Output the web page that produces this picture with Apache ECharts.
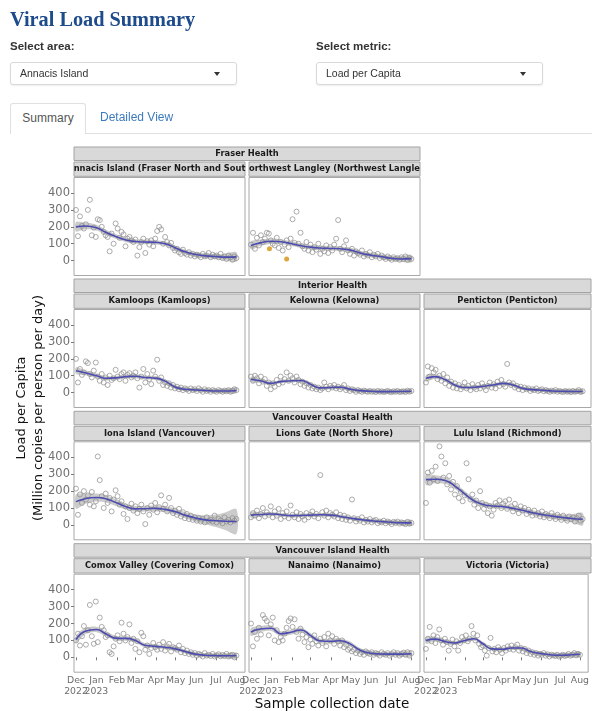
<!DOCTYPE html>
<html>
<head>
<meta charset="utf-8">
<title>Viral Load Summary</title>
<script src="https://cdn.jsdelivr.net/npm/echarts@6/dist/echarts.min.js"></script>
<style>
  body { margin: 0; background: #fff; }
  #page { position: relative; width: 592px; height: 711px; overflow: hidden; font-family: "Liberation Sans", Arial, sans-serif; }
  #chart { position: absolute; left: 0; top: 0; width: 592px; height: 711px; }
  .title { position: absolute; left: 10px; top: 9px; font: bold 20.3px/20px "Liberation Serif", serif; color: #1d4b8b; white-space: nowrap; }
  .lbl { position: absolute; top: 40px; font-weight: bold; font-size: 11.5px; line-height: 13px; color: #333; }
  .sel { position: absolute; top: 62px; width: 227px; height: 23px; box-sizing: border-box; border: 1px solid #d9d9d9; border-radius: 3px;
         box-shadow: 0 1px 2px rgba(0,0,0,0.07); font-size: 10.5px; line-height: 21px; color: #333; padding-left: 9px; background: #fff; }
  .caret { position: absolute; right: 16px; top: 9px; width: 0; height: 0; border-left: 3.5px solid transparent; border-right: 3.5px solid transparent; border-top: 4px solid #333; }
  .tabline { position: absolute; left: 86px; right: 0; top: 133px; border-top: 1px solid #e0e0e0; }
  .tab { position: absolute; top: 103px; height: 31px; box-sizing: border-box; font-size: 12px; line-height: 29px; }
  .tab.active { left: 10px; width: 76px; border: 1px solid #e0e0e0; border-bottom: none; border-radius: 3px 3px 0 0; text-align: center; color: #555; background: #fff; }
  .tab.link { left: 100px; color: #3c7bbf; }
</style>
</head>
<body>
<div id="page">
  <div id="chart"></div>
  <div class="title">Viral Load Summary</div>
  <div class="lbl" style="left:10px">Select area:</div>
  <div class="sel" style="left:10px">Annacis Island<span class="caret"></span></div>
  <div class="lbl" style="left:316px">Select metric:</div>
  <div class="sel" style="left:316px">Load per Capita<span class="caret"></span></div>
  <div class="tabline"></div>
  <div class="tab active">Summary</div>
  <div class="tab link">Detailed View</div>
</div>
<script>
// sample collection dates (shared by all sites)
const sampleDates = [
  '2022-12-01','2022-12-04','2022-12-07','2022-12-10','2022-12-13','2022-12-16','2022-12-19','2022-12-22','2022-12-25','2022-12-28','2022-12-31',
  '2023-01-03','2023-01-06','2023-01-09','2023-01-12','2023-01-15','2023-01-18','2023-01-21','2023-01-24','2023-01-27','2023-01-30',
  '2023-02-02','2023-02-05','2023-02-08','2023-02-11','2023-02-14','2023-02-17','2023-02-20','2023-02-23','2023-02-26',
  '2023-03-01','2023-03-04','2023-03-07','2023-03-10','2023-03-13','2023-03-16','2023-03-19','2023-03-22','2023-03-25','2023-03-28','2023-03-31',
  '2023-04-03','2023-04-06','2023-04-09','2023-04-12','2023-04-15','2023-04-18','2023-04-21','2023-04-24','2023-04-27','2023-04-30',
  '2023-05-03','2023-05-06','2023-05-09','2023-05-12','2023-05-15','2023-05-18','2023-05-21','2023-05-24','2023-05-27','2023-05-30',
  '2023-06-02','2023-06-05','2023-06-08','2023-06-11','2023-06-14','2023-06-17','2023-06-20','2023-06-23','2023-06-26','2023-06-29',
  '2023-07-02','2023-07-05','2023-07-08','2023-07-11','2023-07-14','2023-07-17','2023-07-20','2023-07-23','2023-07-26','2023-07-29',
  '2023-08-01'
];
// dates where the smoothed fit is given
const fitDates = ['2022-12-01','2022-12-15','2023-01-01','2023-01-15','2023-02-01','2023-02-15','2023-03-01','2023-03-15',
  '2023-04-01','2023-04-15','2023-05-01','2023-05-15','2023-06-01','2023-06-15','2023-07-01','2023-07-15','2023-08-01'];

const monthTicks = ['2022-12-01','2023-01-01','2023-02-01','2023-03-01','2023-04-01','2023-05-01','2023-06-01','2023-07-01','2023-08-01'];
const monthLabels = ['Dec','Jan','Feb','Mar','Apr','May','Jun','Jul','Aug'];
const yearTicks = ['2022-12-01','2023-01-01'];
const yearLabels = ['2022','2023'];
const yTicks = [0, 100, 200, 300, 400];

const regionNames = ['Fraser Health', 'Interior Health', 'Vancouver Coastal Health', 'Vancouver Island Health'];
const siteLabels = ['nnacis Island (Fraser North and Sout', 'orthwest Langley (Northwest Langle',
  'Kamloops (Kamloops)', 'Kelowna (Kelowna)', 'Penticton (Penticton)',
  'Iona Island (Vancouver)', 'Lions Gate (North Shore)', 'Lulu Island (Richmond)',
  'Comox Valley (Covering Comox)', 'Nanaimo (Nanaimo)', 'Victoria (Victoria)'];

// load per capita, one value per sample date
const annacisLoad = [300,145,262,205,190,215,300,360,150,195,140, 245,240,200,170,150,140,55,160,100,220, 190,135,170,155,85,130,140,120,110,
  125,30,80,110,130,45,115,95,120,85,130, 175,200,185,100,140,110,90,105,75,60, 70,50,40,65,45,35,50,30,40,25,
  35,30,20,40,25,30,45,20,35,25, 30,20,40,15,25,10,30,20,5,25, 15];
const nwLangleyLoad = [95,165,70,135,90,150,110,130,165,160,120, 100,90,135,75,110,60,95,120,80,130, 245,105,290,100,165,85,70,110,60,
  95,50,80,65,100,40,70,55,90,45,80, 60,95,130,240,70,50,85,120,60,40, 70,30,55,45,35,60,25,40,30,50,
  20,35,25,40,15,30,20,10,25,15, 5,20,10,15,5,20,10,25,5,15, 10];
const kamloopsLoad = [200,60,140,105,120,185,175,110,90,130,178, 95,70,110,60,90,45,100,75,85,135, 95,80,110,120,70,105,115,90,100,
  120,85,30,95,140,60,110,80,50,130,95, 195,70,90,45,60,40,55,30,45,25, 35,20,30,15,25,20,10,25,15,20,
  10,25,15,5,20,10,15,5,15,10, 5,15,10,5,12,8,15,5,10,20, 15];
const kelownaLoad = [95,70,100,85,55,95,65,80,40,60,20, 55,35,75,50,95,60,80,120,70,100, 85,60,95,75,50,65,40,55,30,
  45,25,35,20,30,15,25,60,35,20,40, 30,45,25,35,20,30,45,15,25,10, 20,15,5,15,10,5,12,8,5,10,
  5,8,3,10,5,8,4,6,10,5, 3,8,5,10,4,6,8,3,12,6, 10];
const pentictonLoad = [60,155,95,145,120,135,80,100,70,110,55, 90,40,65,30,55,25,45,20,35,60, 25,40,15,50,30,20,45,25,55,
  35,15,40,60,30,50,25,65,40,75,50, 35,170,60,45,55,30,40,20,35,15, 30,20,25,10,20,15,25,10,15,20,
  8,15,10,5,12,8,15,5,10,6, 4,10,5,8,3,10,5,8,15,4, 8];
const ionaLoad = [215,60,180,130,200,150,175,120,195,110,140, 405,265,170,100,185,130,160,80,150,205, 170,120,140,65,110,35,100,125,85,
  110,70,95,120,80,5,100,60,115,90,130, 75,105,175,95,120,80,160,100,70,85, 60,95,50,75,40,65,35,55,30,45,
  25,40,20,35,15,45,25,30,20,55, 15,35,25,10,45,20,30,15,40,25, 35];
const lionsGateLoad = [45,70,55,85,40,65,100,50,75,60,110, 45,80,55,95,35,70,50,80,40,115, 60,45,75,35,65,50,30,70,45,
  60,80,50,65,40,295,75,55,85,45,70, 60,50,75,40,60,35,55,30,45,25, 150,40,20,35,25,45,15,30,20,35,
  15,25,30,10,20,15,25,10,20,15, 5,18,12,20,8,15,10,5,18,8, 12];
const luluLoad = [130,310,250,320,270,345,260,465,405,280,365, 240,290,210,255,180,230,160,195,140,175, 365,270,150,180,120,145,100,200,130,
  95,120,70,110,55,90,130,115,145,100,125, 140,95,150,110,80,125,95,70,110,85, 100,65,90,75,55,85,60,70,50,80,
  45,65,55,40,70,50,35,60,45,30, 55,40,25,50,35,45,20,40,55,25, 35];
const comoxLoad = [100,140,70,125,185,75,160,310,125,80,330, 90,235,180,160,120,130,30,20,65,110, 130,95,205,140,100,120,195,85,110,
  50,95,30,145,125,45,70,20,55,85,60, 45,75,50,90,40,65,80,35,60,55, 45,70,30,50,25,40,20,30,15,25,
  10,20,15,5,25,10,15,8,20,5, 12,18,6,14,8,20,5,12,15,0, 10];
const nanaimoLoad = [200,65,150,110,175,135,250,230,215,130,195, 235,100,160,90,120,100,140,175,215,230, 180,225,150,110,170,135,90,120,60,
  105,80,130,95,70,110,85,120,65,140,100, 125,80,110,95,70,100,60,75,45,55, 35,45,25,40,20,30,15,35,25,20,
  30,15,25,20,10,30,20,15,25,10, 20,30,15,25,10,20,28,15,30,10, 25];
const victoriaLoad = [50,110,180,95,130,85,120,165,100,75,110, 90,40,80,105,65,95,40,85,120,100, 130,95,110,185,140,100,130,80,60,
  70,40,10,55,115,35,50,30,60,45,25, 55,40,65,50,70,45,60,75,40,55, 35,50,25,40,20,30,15,25,10,20,
  15,25,10,18,5,15,12,8,15,5, 10,15,8,12,20,10,15,25,12,20, 15];

// flagged samples (orange) at Northwest Langley
const nwLangleyFlagDates = ['2022-12-29', '2023-01-24'];
const nwLangleyFlagLoad = [70, 10];

// smoothed fit and half-width of its confidence band
const annacisFit = [200,205,195,168,140,122,113,110,108,100,75,52,36,28,24,21,22];
const annacisBand = [28,20,17,15,14,13,13,13,13,13,13,13,13,14,16,20,28];
const nwLangleyFit = [90,105,115,112,100,88,80,75,72,70,62,45,32,24,14,10,12];
const nwLangleyBand = [24,18,16,15,14,14,14,14,14,14,14,14,14,14,15,17,22];
const kamloopsFit = [130,118,100,85,88,95,97,90,86,68,32,20,16,13,10,10,13];
const kamloopsBand = [20,15,13,12,12,12,12,12,12,12,12,11,11,11,12,13,16];
const kelownaFit = [78,70,55,65,70,72,50,28,30,32,20,12,8,6,6,7,8];
const kelownaBand = [16,12,11,10,10,10,10,10,10,10,10,9,9,9,9,10,12];
const pentictonFit = [85,95,75,45,30,32,38,45,55,45,25,18,14,10,8,7,7];
const pentictonBand = [20,15,13,12,11,11,11,11,11,11,10,10,10,10,10,11,14];
const ionaFit = [138,155,162,155,130,108,95,96,98,92,78,58,40,30,25,22,20];
const ionaBand = [42,30,24,22,20,18,17,17,17,18,18,19,22,27,37,52,74];
const lionsGateFit = [58,62,65,60,55,56,58,60,58,50,40,32,25,20,16,13,12];
const lionsGateBand = [18,14,12,11,11,11,11,11,11,11,11,11,11,11,12,14,18];
const luluFit = [268,270,262,230,178,140,120,112,108,98,85,72,60,52,44,38,34];
const luluBand = [32,24,20,18,17,16,15,15,15,15,15,15,16,17,19,24,37];
const comoxFit = [105,155,165,140,112,112,100,72,65,60,50,35,18,12,10,9,10];
const comoxBand = [22,18,16,15,14,14,14,13,13,13,12,12,12,12,12,14,17];
const nanaimoFit = [150,168,172,140,150,162,130,98,95,98,78,42,24,20,19,19,21];
const nanaimoBand = [24,18,16,15,15,15,14,14,14,14,14,13,13,13,13,15,18];
const victoriaFit = [100,108,92,85,100,110,80,50,48,55,55,35,22,15,12,14,18];
const victoriaBand = [20,15,13,12,12,12,12,11,11,11,11,11,11,11,12,13,16];

const FONT = '"DejaVu Sans", sans-serif';
const colLeft = [74, 249, 424];
const colWidth = [171, 171, 167];
const panelTop = [177.5, 309.5, 441.8, 574.2];
const panelH = 98;

const panels = [
  { row: 0, col: 0, load: annacisLoad, fit: annacisFit, band: annacisBand },
  { row: 0, col: 1, load: nwLangleyLoad, fit: nwLangleyFit, band: nwLangleyBand, flagDates: nwLangleyFlagDates, flagLoad: nwLangleyFlagLoad },
  { row: 1, col: 0, load: kamloopsLoad, fit: kamloopsFit, band: kamloopsBand },
  { row: 1, col: 1, load: kelownaLoad, fit: kelownaFit, band: kelownaBand },
  { row: 1, col: 2, load: pentictonLoad, fit: pentictonFit, band: pentictonBand },
  { row: 2, col: 0, load: ionaLoad, fit: ionaFit, band: ionaBand },
  { row: 2, col: 1, load: lionsGateLoad, fit: lionsGateFit, band: lionsGateBand },
  { row: 2, col: 2, load: luluLoad, fit: luluFit, band: luluBand },
  { row: 3, col: 0, load: comoxLoad, fit: comoxFit, band: comoxBand },
  { row: 3, col: 1, load: nanaimoLoad, fit: nanaimoFit, band: nanaimoBand },
  { row: 3, col: 2, load: victoriaLoad, fit: victoriaFit, band: victoriaBand }
];

// dates become timestamps on a value axis, so custom month ticks can be placed
const parse = function (s) { return echarts.time.parse(s).getTime(); };
const sampleTs = sampleDates.map(parse);
const fitTs = fitDates.map(parse);
const monthTs = monthTicks.map(parse);
const yearTs = yearTicks.map(parse);
const xMin = parse('2022-11-28');
const xMax = parse('2023-08-14');

const chart = echarts.init(document.getElementById('chart'));

const grid = [], xAxis = [], yAxis = [], series = [], graphic = [];

function labelAxis(gi, values, labels, show, margin, withTicks) {
  return {
    type: 'value', gridIndex: gi, position: 'bottom', min: xMin, max: xMax,
    axisLine: { show: false },
    splitLine: { show: false },
    axisTick: { show: show && withTicks, customValues: values, length: 3, lineStyle: { color: '#7a7a7a' } },
    axisLabel: {
      show: show, customValues: values, hideOverlap: false, showMinLabel: true, showMaxLabel: true,
      fontFamily: FONT, fontSize: 9.3, color: '#6e6e6e', margin: margin,
      formatter: function (v) { const k = values.indexOf(v); return k < 0 ? '' : labels[k]; }
    }
  };
}

panels.forEach(function (p, i) {
  const bottomRow = p.row === 3;
  const firstCol = p.col === 0;
  grid.push({
    left: colLeft[p.col], top: panelTop[p.row], width: colWidth[p.col], height: panelH,
    show: true, backgroundColor: '#fff', borderColor: '#a8a8a8', borderWidth: 1
  });
  const xi = xAxis.length;
  xAxis.push(labelAxis(i, monthTs, monthLabels, bottomRow, 4, true));
  if (bottomRow) {
    // one axis per year label so the two touching labels are both kept
    xAxis.push(labelAxis(i, [yearTs[0]], [yearLabels[0]], true, 14.5, false));
    xAxis.push(labelAxis(i, [yearTs[1]], [yearLabels[1]], true, 14.5, false));
  }
  yAxis.push({
    type: 'value', gridIndex: i, min: -88, max: 492,
    axisLine: { show: false },
    splitLine: { show: false },
    axisTick: { show: firstCol, customValues: yTicks, length: 3, lineStyle: { color: '#7a7a7a' } },
    axisLabel: { show: firstCol, customValues: yTicks, fontFamily: FONT, fontSize: 11.5, color: '#707070', margin: 4 }
  });

  const pts = [];
  p.load.forEach(function (v, k) { if (v != null) pts.push([sampleTs[k], v]); });
  series.push({
    type: 'scatter', xAxisIndex: xi, yAxisIndex: i, data: pts, symbol: 'circle', symbolSize: 5, silent: true, z: 2,
    itemStyle: { color: 'rgba(255,255,255,0)', borderColor: '#929292', borderWidth: 0.9, opacity: 0.85 }
  });
  if (p.flagDates) {
    series.push({
      type: 'scatter', xAxisIndex: xi, yAxisIndex: i, symbol: 'circle', symbolSize: 5, silent: true, z: 5,
      data: p.flagDates.map(function (d, k) { return [parse(d), p.flagLoad[k]]; }),
      itemStyle: { color: '#d4900e' }
    });
  }
  // confidence band around the fit
  series.push({
    type: 'custom', xAxisIndex: xi, yAxisIndex: i, silent: true, z: 3, clip: true,
    data: fitTs.map(function (t, k) { return [t, p.fit[k]]; }),
    renderItem: function (params, api) {
      if (params.dataIndex !== 0) return;
      const upper = [], lower = [];
      for (let k = 0; k < fitTs.length; k++) {
        upper.push(api.coord([fitTs[k], p.fit[k] + p.band[k]]));
        lower.push(api.coord([fitTs[k], p.fit[k] - p.band[k]]));
      }
      return {
        type: 'polygon',
        shape: { points: upper.concat(lower.reverse()), smooth: 0.3 },
        style: { fill: 'rgba(140,140,140,0.45)' }
      };
    }
  });
  series.push({
    type: 'line', xAxisIndex: xi, yAxisIndex: i, silent: true, z: 4, smooth: 0.5, showSymbol: false,
    data: fitTs.map(function (t, k) { return [t, p.fit[k]]; }),
    lineStyle: { color: '#4b4bb0', width: 1.6 }
  });

  // panel strip
  graphic.push({
    type: 'rect', silent: true,
    shape: { x: colLeft[p.col], y: panelTop[p.row] - 15.5, width: colWidth[p.col], height: 14.3 },
    style: { fill: '#d9d9d9', stroke: '#a3a3a3', lineWidth: 1 }
  });
  graphic.push({
    type: 'text', silent: true, z: 10,
    x: colLeft[p.col] + colWidth[p.col] / 2, y: panelTop[p.row] - 8.3,
    style: { text: siteLabels[i], font: 'bold 8.3px ' + FONT, fill: '#1a1a1a', align: 'center', verticalAlign: 'middle' }
  });
});

// region strips
regionNames.forEach(function (name, r) {
  const right = r === 0 ? colLeft[1] + colWidth[1] : colLeft[2] + colWidth[2];
  graphic.push({
    type: 'rect', silent: true,
    shape: { x: colLeft[0], y: panelTop[r] - 30.5, width: right - colLeft[0], height: 13.5 },
    style: { fill: '#d9d9d9', stroke: '#a3a3a3', lineWidth: 1 }
  });
  graphic.push({
    type: 'text', silent: true, z: 10,
    x: (colLeft[0] + right) / 2, y: panelTop[r] - 23.6,
    style: { text: name, font: 'bold 8.3px ' + FONT, fill: '#1a1a1a', align: 'center', verticalAlign: 'middle' }
  });
});

// axis titles
graphic.push({
  type: 'text', silent: true, x: 30, y: 408, rotation: Math.PI / 2,
  style: { text: 'Load per Capita\n(Million copies per person per day)', font: '13px ' + FONT, fill: '#111',
           align: 'center', verticalAlign: 'middle', lineHeight: 17 }
});
graphic.push({
  type: 'text', silent: true, x: 332, y: 704,
  style: { text: 'Sample collection date', font: '13.5px ' + FONT, fill: '#111', align: 'center', verticalAlign: 'middle' }
});

chart.setOption({
  animation: false,
  textStyle: { fontFamily: FONT },
  grid: grid,
  xAxis: xAxis,
  yAxis: yAxis,
  series: series,
  graphic: graphic
});
</script>
</body>
</html>
